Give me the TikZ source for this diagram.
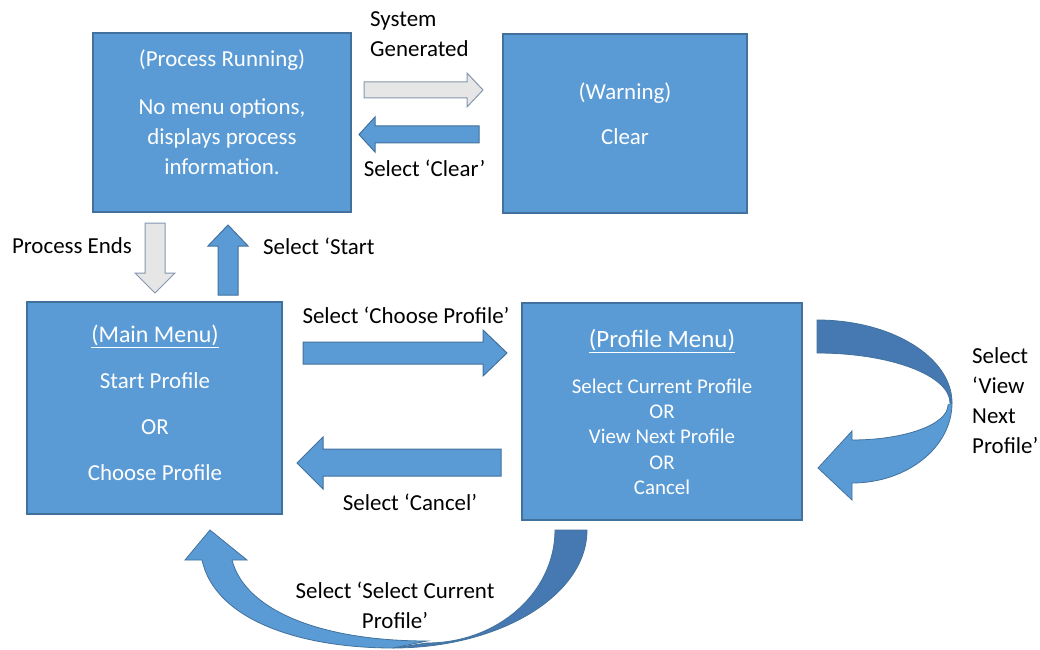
\documentclass[tikz,border=0pt]{standalone}
\usepackage{fontspec}
\setmainfont{Carlito}
\definecolor{boxfill}{HTML}{5B9BD5}
\definecolor{boxline}{HTML}{41719C}
\definecolor{bandback}{HTML}{4679B2}
\definecolor{greyfill}{HTML}{E7E6E6}
\definecolor{greyline}{HTML}{8497B0}
\newcommand{\txt}{\fontsize{23}{30}\selectfont}
\begin{document}
\begin{tikzpicture}[x=1bp,y=-1bp,
  statebox/.style={draw=boxline, line width=1.2bp, fill=boxfill, inner sep=0pt},
  boxtext/.style={text=white, align=center, inner sep=0pt},
  label/.style={text=black, inner sep=0pt, font=\txt},
  bluearrow/.style={draw=boxline, line width=1bp, fill=boxfill, line join=miter},
  greyarrow/.style={draw=greyline, line width=1bp, fill=greyfill, line join=miter},
  backband/.style={draw=boxline, line width=0.8bp, fill=bandback},
  frontband/.style={draw=boxline, line width=0.8bp, fill=boxfill}]
\useasboundingbox (0,0) rectangle (1040,650);

% state boxes
\node[statebox, minimum width=258bp, minimum height=179bp] (run) at (222,122.5) {};
\node[statebox, minimum width=244bp, minimum height=179bp] (warn) at (625,123.5) {};
\node[statebox, minimum width=255bp, minimum height=212bp] (main) at (154.5,408) {};
\node[statebox, minimum width=280bp, minimum height=217bp] (prof) at (662,411.5) {};

% box contents
\node[boxtext, font=\txt] (runtext) at (222,112)
  {(Process Running)\\[18bp]No menu options,\\displays process\\information.};
\node[boxtext, font=\txt] (warntext) at (625,114)
  {(Warning)\\[15bp]Clear};
\node[boxtext, font=\fontsize{23}{46}\selectfont] (maintext) at (155,403)
  {\fontsize{24}{46}\selectfont\underline{(Main Menu)}\\Start Profile\\OR\\Choose Profile};
\node[boxtext, font=\fontsize{21}{25.3}\selectfont] (proftext) at (662,412)
  {\fontsize{25}{25.3}\selectfont\underline{(Profile Menu)}\\[20.7bp]\fontsize{21}{25.3}\selectfont
   Select Current Profile\\OR\\View Next Profile\\OR\\Cancel};

% straight block arrows
\draw[greyarrow] (364,82) -- (467,82) -- (467,73) -- (483,90) -- (467,107) -- (467,98) -- (364,98) -- cycle;
\draw[bluearrow] (479,126) -- (375,126) -- (375,117) -- (359,134.5) -- (375,152) -- (375,143) -- (479,143) -- cycle;
\draw[greyarrow] (145,223) -- (165,223) -- (165,273) -- (175,273) -- (155,293) -- (135,273) -- (145,273) -- cycle;
\draw[bluearrow] (218,295) -- (238,295) -- (238,246) -- (248,246) -- (228,225) -- (208,246) -- (218,246) -- cycle;
\draw[bluearrow] (303,342) -- (483,342) -- (483,330) -- (507,353) -- (483,376) -- (483,364) -- (303,364) -- cycle;
\draw[bluearrow] (501,449) -- (323,449) -- (323,437) -- (297,463) -- (323,489) -- (323,476) -- (501,476) -- cycle;

% curved arrow on the right of the profile menu
\draw[backband] (817,320) arc[start angle=90, end angle=0, x radius=135bp, y radius=83bp]
  -- (950,403) arc[start angle=0, end angle=90, x radius=133bp, y radius=50bp] -- cycle;
\draw[frontband] (952,403) arc[start angle=0, end angle=-90, x radius=100bp, y radius=80bp]
  -- (852,500) -- (818,468) -- (852,431) -- (852,440)
  arc[start angle=-90, end angle=0, x radius=96bp, y radius=35bp] -- cycle;

% curved arrow below, from the profile menu back to the main menu
\draw[backband] (587,530) arc[start angle=0, end angle=-90, x radius=194bp, y radius=118bp]
  -- (427,643) arc[start angle=-90, end angle=0, x radius=128bp, y radius=113bp] -- cycle;
\draw[frontband] (393,648) .. controls (300,648) and (215,620) .. (202,560)
  -- (185,560) -- (210,530) -- (247,560) -- (232,560)
  .. controls (245,610) and (320,641) .. (427,641) -- cycle;

% transition labels
\node[label, align=left, anchor=west] (lsys) at (370,34.5) {System\\Generated};
\node[label] (lclear) at (424.5,168) {Select ‘Clear’};
\node[label] (lends) at (72,246) {Process Ends};
\node[label, anchor=west] (lstart) at (263,246) {Select ‘Start};
\node[label] (lchoose) at (406,315) {Select ‘Choose Profile’};
\node[label] (lcancel) at (410,502) {Select ‘Cancel’};
\node[label, align=center] (lcurrent) at (395,605) {Select ‘Select Current\\Profile’};
\node[label, align=left, anchor=west] (lnext) at (972,400.5) {Select\\‘View\\Next\\Profile’};
\end{tikzpicture}
\end{document}
